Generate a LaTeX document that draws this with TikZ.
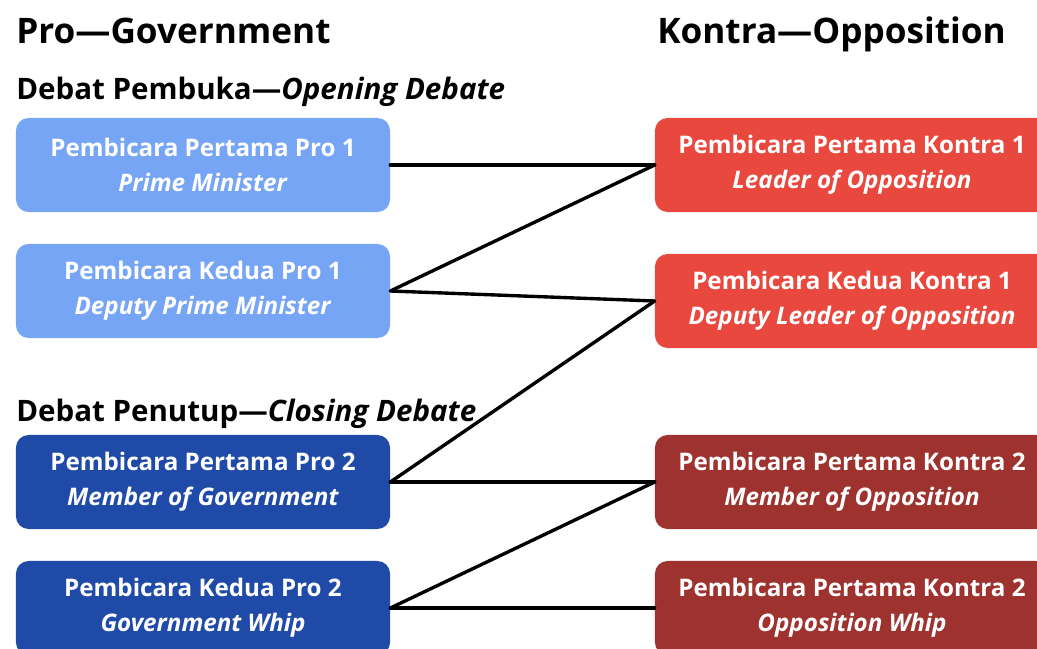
\documentclass[tikz,border=0pt]{standalone}
\usepackage{fontspec}
\setmainfont{Open Sans}
\usetikzlibrary{positioning}
\definecolor{proLight}{RGB}{118,165,245}
\definecolor{proDark}{RGB}{31,74,168}
\definecolor{konLight}{RGB}{232,72,62}
\definecolor{konDark}{RGB}{158,50,47}
\tikzset{
  debate/.style={
    side title/.style={font={\fontsize{25}{30}\selectfont\bfseries},anchor=base west,inner sep=0pt},
    part title/.style={font={\fontsize{21}{26}\selectfont\bfseries},anchor=base west,inner sep=0pt},
    speaker/.style={rectangle, rounded corners=9pt, draw=none, text=white,
        minimum width=9.35cm, minimum height=2.35cm, align=center,
        font={\fontsize{17.2}{25}\selectfont\bfseries}},
    opponent/.style={speaker, minimum width=9.85cm},
    link/.style={black, line width=2.4pt, line cap=round},
  }
}
\newcommand{\role}[2]{#1\\\textit{#2}}

\begin{document}
\begin{tikzpicture}
[
    debate,
    x=0.025cm, y=-0.025cm,
]
    \useasboundingbox (0,0) rectangle (1037,649);
    \clip (0,0) rectangle (1037,649);
    % headings
    \node[side title] (pro) at (16,44) {Pro\textemdash Government};
    \node[side title] (kontra) at (657,44) {Kontra\textemdash Opposition};
    \node[part title] (open) at (16,100) {Debat Pembuka\textemdash\textit{Opening Debate}};
    \node[part title] (close) at (16,421) {Debat Penutup\textemdash\textit{Closing Debate}};
    % government bench
    \node[speaker, fill=proLight] (pm) at (203,165) {\role{Pembicara Pertama Pro 1}{Prime Minister}};
    \node[speaker, fill=proLight] (dpm) at (203,291) {\role{Pembicara Kedua Pro 1}{Deputy Prime Minister}};
    \node[speaker, fill=proDark] (mg) at (203,482) {\role{Pembicara Pertama Pro 2}{Member of Government}};
    \node[speaker, fill=proDark] (gw) at (203,608) {\role{Pembicara Kedua Pro 2}{Government Whip}};
    % opposition bench
    \node[opponent, fill=konLight] (lo) at (852,165) {\role{Pembicara Pertama Kontra 1}{Leader of Opposition}};
    \node[opponent, fill=konLight] (dlo) at (852,301) {\role{Pembicara Kedua Kontra 1}{Deputy Leader of Opposition}};
    \node[opponent, fill=konDark] (mo) at (852,482) {\role{Pembicara Pertama Kontra 2}{Member of Opposition}};
    \node[opponent, fill=konDark] (ow) at (852,608) {\role{Pembicara Pertama Kontra 2}{Opposition Whip}};
    % speaking order (government side / opposition side)
    \foreach \a/\b in {pm/lo, dpm/lo, dpm/dlo, mg/dlo, mg/mo, gw/mo, gw/ow}
        \draw[link] (\a.east) -- (\b.west);
\end{tikzpicture}
\end{document}
